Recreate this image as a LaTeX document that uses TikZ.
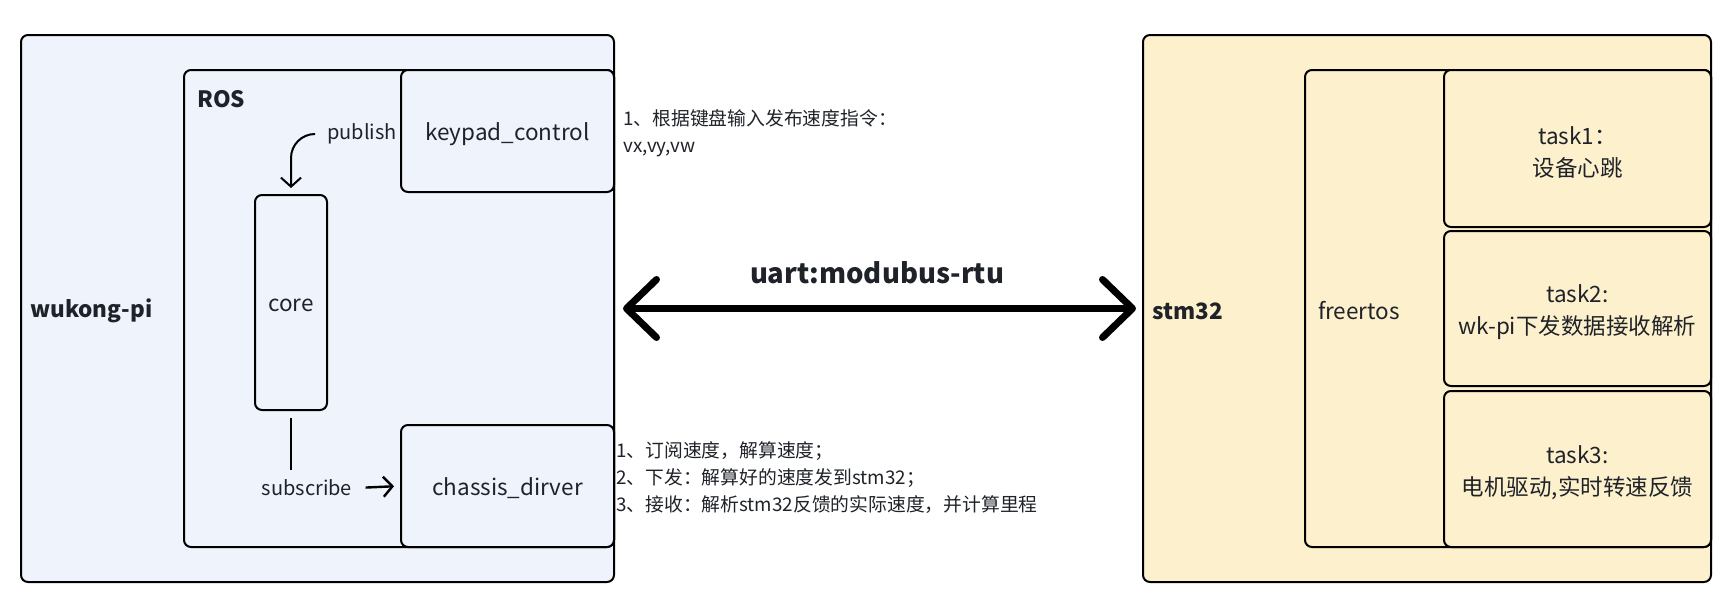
\documentclass[tikz,border=0pt]{standalone}
\usepackage{fontspec}
\setmainfont{Noto Sans CJK SC}
\usetikzlibrary{positioning,arrows.meta}
\definecolor{piblue}{RGB}{239,243,252}
\definecolor{stmyellow}{RGB}{253,240,205}
\definecolor{inkgray}{RGB}{31,35,41}
\newcommand{\topgap}{\rule{0pt}{26pt}}

\begin{document}
\begin{tikzpicture}[
  x=1pt, y=-1pt,
  box/.style={draw=black, line width=2pt, rounded corners=7pt, inner sep=0pt,
              align=center, text=inkgray, font=\fontsize{22.5}{32}\selectfont},
  pibox/.style={box, fill=piblue},
  stmbox/.style={box, fill=stmyellow},
  oneline/.style={text height=21pt, text depth=2.7pt},
  tag/.style={font=\fontsize{22.5}{27}\selectfont\bfseries, text=inkgray,
              anchor=west, inner sep=0pt},
  small/.style={font=\fontsize{20}{24}\selectfont, text=inkgray},
  note/.style={font=\fontsize{18.8}{27}\selectfont, text=inkgray, align=left,
               anchor=north west, inner sep=0pt},
  >={Straight Barb[length=9pt, width=20pt]}
]
\useasboundingbox (0,0) rectangle (1727,603);

% Left: wukong-pi
\node[pibox, minimum width=593pt, minimum height=547pt] (wukong) at (317.5, 308.5) {};
\node[tag] (wukonglbl) at (30, 311) {wukong-pi};

% ROS frame
\node[pibox, minimum width=430pt, minimum height=477pt] (ros) at (399, 308.5) {};
\node[tag] (roslbl) at (197, 99) {ROS};

% ROS nodes
\node[pibox, oneline, minimum width=213pt, minimum height=122pt] (keypad) at (507.5, 131) {keypad\_control};
\node[pibox, oneline, minimum width=72pt, minimum height=215pt] (core) at (291, 302.5) {core};
\node[pibox, oneline, minimum width=213pt, minimum height=122pt] (chassis) at (507.5, 486) {chassis\_dirver};

% Topic labels
\node[small] (publish) at (362, 134) {publish};
\node[small] (subscribe) at (307, 488) {subscribe};

% Arrows inside ROS
\draw[->, line width=2pt, rounded corners=24pt, shorten >=6pt]
  ([xshift=-10pt]publish.west) -| (core.north);
\draw[line width=2pt, shorten <=7pt, shorten >=6pt] (core.south) -- (core.south |- subscribe.north);
\draw[->, line width=2.4pt, shorten <=10pt, shorten >=6pt] (subscribe.east) -- (chassis.west);

% Right: stm32
\node[stmbox, minimum width=568pt, minimum height=547pt] (stm) at (1427, 308.5) {};
\node[tag] (stmlbl) at (1152, 311) {stm32};

% freertos frame
\node[stmbox, minimum width=406pt, minimum height=477pt] (rtos) at (1508, 308.5) {};
\node[box, draw=none, anchor=west] (rtoslbl) at (1317, 311) {freertos};

% Tasks
\node[stmbox, minimum width=267pt, minimum height=157pt] (task1) at (1577.5, 148.5)
  {\topgap task1：\\设备心跳};
\node[stmbox, minimum width=267pt, minimum height=155pt] (task2) at (1577.5, 308.5)
  {\topgap task2:\\wk-pi下发数据接收解析};
\node[stmbox, minimum width=267pt, minimum height=156pt] (task3) at (1577.5, 469)
  {\topgap task3:\\电机驱动,实时转速反馈};

% Link
\draw[{Straight Barb[length=30pt, width=58pt, round]}-{Straight Barb[length=30pt, width=58pt, round]},
      line width=7pt, shorten <=8pt, shorten >=6pt] (wukong.east) -- (stm.west);
\node[font=\fontsize{27.5}{32}\selectfont\bfseries, text=inkgray] (uart) at (877, 273)
  {uart:modubus-rtu};

% Notes
\node[note] (keynote) at (623, 109)
  {1、根据键盘输入发布速度指令：\\vx,vy,vw};
\node[note] (chassisnote) at (616, 441)
  {1、订阅速度，解算速度；\\
   2、下发：解算好的速度发到stm32；\\
   3、接收：解析stm32反馈的实际速度，并计算里程};

\end{tikzpicture}
\end{document}
